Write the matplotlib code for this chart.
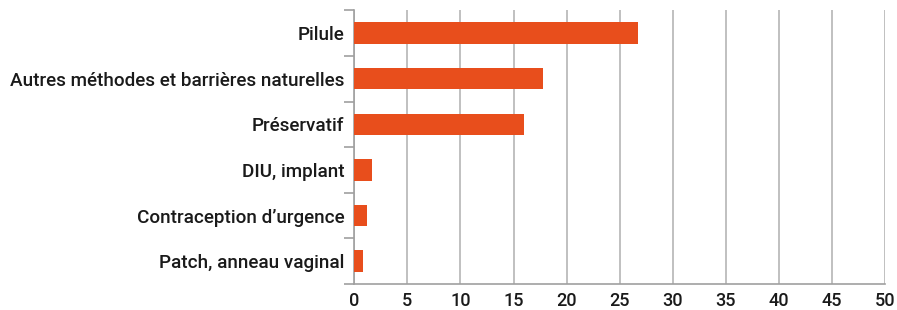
import matplotlib.pyplot as plt
import numpy as np

# Data (top to bottom in the chart)
methods = ['Pilule', 'Autres méthodes et barrières naturelles', 'Préservatif',
           'DIU, implant', 'Contraception d\u2019urgence', 'Patch, anneau vaginal']
values = [26.7, 17.8, 16.0, 1.7, 1.2, 0.8]
xticks = list(range(0, 51, 5))

plt.rcParams['font.family'] = ['Roboto', 'DejaVu Sans']

fig = plt.figure(figsize=(8.97, 3.10), dpi=100)
ax = fig.add_axes([0.395, 0.084, 0.5916, 0.8828])

y = np.arange(len(methods))[::-1]
ax.barh(y, values, height=0.47, color='#E84E1C', zorder=3)

ax.set_xlim(0, 50)
ax.set_ylim(-0.5, len(methods) - 0.5)
ax.set_xticks(xticks)
ax.set_xticklabels([str(t) for t in xticks], fontsize=13, fontweight='medium')
ax.set_yticks(y)
ax.set_yticklabels(methods, fontsize=13.6, fontweight='medium', color='#1a1a1a')
ax.set_yticks(np.arange(-0.5, len(methods), 1.0), minor=True)

ax.tick_params(axis='y', which='major', length=0, pad=7)
ax.tick_params(axis='y', which='minor', length=7, color='#a0a0a0', width=1.2)
ax.tick_params(axis='x', length=0, pad=6, colors='#1a1a1a')

ax.grid(axis='x', color='#b5b5b5', linewidth=1.2, zorder=0)
for s in ['top', 'right']:
    ax.spines[s].set_visible(False)
for s in ['left', 'bottom']:
    ax.spines[s].set_color('#a0a0a0')
    ax.spines[s].set_linewidth(1.2)

fig.savefig('out.png', dpi=100)
